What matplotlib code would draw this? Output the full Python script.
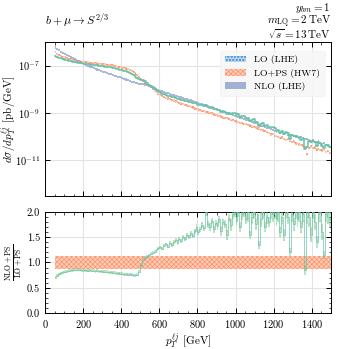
import numpy as np
import matplotlib
matplotlib.use("Agg")
import matplotlib.pyplot as plt
from matplotlib.patches import Patch
from matplotlib.ticker import MultipleLocator

plt.rcParams['font.family'] = ['cmr10', 'DejaVu Serif']
plt.rcParams['mathtext.fontset'] = 'cm'
plt.rcParams['axes.unicode_minus'] = False
plt.rcParams['axes.formatter.use_mathtext'] = True
plt.rcParams['hatch.linewidth'] = 0.45

# ---------------- data ----------------
bin_width = 10
bin_start = 50
n_bins = 145

# log10 of dsigma/dpT [pb/GeV], LO+PS (HW7)
lo_ps_log = [
    -6.44, -6.50, -6.55, -6.59, -6.63, -6.66, -6.69, -6.72, -6.74, -6.76,
    -6.78, -6.80, -6.81, -6.83, -6.84, -6.85, -6.86, -6.87, -6.88, -6.89,
    -6.90, -6.91, -6.92, -6.93, -6.94, -6.95, -6.96, -6.97, -6.98, -6.99,
    -7.00, -7.02, -7.03, -7.05, -7.07, -7.09, -7.11, -7.13, -7.16, -7.19,
    -7.23, -7.28, -7.34, -7.41, -7.49, -7.57, -7.64, -7.71, -7.79, -7.86,
    -7.92, -7.99, -8.06, -8.13, -8.19, -8.25, -8.29, -8.33, -8.36, -8.40,
    -8.42, -8.46, -8.48, -8.52, -8.54, -8.58, -8.61, -8.63, -8.67, -8.69,
    -8.72, -8.75, -8.77, -8.81, -8.83, -8.86, -8.88, -8.91, -8.93, -8.96,
    -8.98, -9.01, -9.03, -9.07, -9.08, -9.12, -9.14, -9.16, -9.19, -9.22,
    -9.23, -9.27, -9.29, -9.31, -9.34, -9.37, -9.38, -9.42, -9.43, -9.46,
    -9.48, -9.52, -9.53, -9.58, -9.59, -9.62, -9.66, -9.67, -9.72, -9.74,
    -9.77, -9.81, -9.84, -9.92, -9.90, -9.97, -9.99, -10.03, -10.06, -10.04,
    -10.10, -10.14, -10.12, -10.20, -10.24, -10.22, -10.30, -10.27, -10.34, -10.36,
    -10.38, -10.45, -10.75, -10.48, -10.42, -10.50, -10.47, -10.55, -10.52, -10.58,
    -10.60, -10.56, -10.65, -10.62, -10.70,
]

# log10 of dsigma/dpT [pb/GeV], NLO (LHE)
nlo_lhe_log = [
    -6.24, -6.30, -6.36, -6.42, -6.47, -6.52, -6.57, -6.61, -6.66, -6.70,
    -6.74, -6.78, -6.82, -6.86, -6.90, -6.94, -6.97, -7.01, -7.04, -7.08,
    -7.11, -7.14, -7.17, -7.20, -7.23, -7.26, -7.29, -7.32, -7.35, -7.37,
    -7.40, -7.43, -7.45, -7.48, -7.50, -7.53, -7.56, -7.59, -7.62, -7.65,
    -7.68, -7.71, -7.73, -7.75, -7.77, -7.78, -7.79, -7.80, -7.82, -7.85,
    -7.89, -7.93, -7.97, -8.01, -8.05, -8.08, -8.10, -8.13, -8.15, -8.18,
    -8.20, -8.23, -8.25, -8.28, -8.30, -8.33, -8.35, -8.38, -8.40, -8.43,
    -8.45, -8.48, -8.50, -8.53, -8.56, -8.58, -8.61, -8.64, -8.66, -8.69,
    -8.72, -8.74, -8.78, -8.80, -8.83, -8.86, -8.89, -8.91, -8.95, -8.97,
    -9.00, -9.03, -9.06, -9.09, -9.13, -9.15, -9.18, -9.21, -9.23, -9.27,
    -9.29, -9.32, -9.35, -9.38, -9.41, -9.44, -9.47, -9.50, -9.54, -9.56,
    -9.60, -9.63, -9.66, -9.70, -9.73, -9.76, -9.80, -9.78, -9.84, -9.82,
    -9.88, -9.86, -9.92, -9.95, -9.93, -9.97, -10.02, -9.99, -10.05, -10.03,
    -10.08, -10.12, -10.10, -10.16, -10.19, -10.15, -10.22, -10.25, -10.21, -10.28,
    -10.32, -10.27, -10.36, -10.40, -10.45,
]

# ratio NLO+PS / LO+PS
ratio = [
    0.70, 0.74, 0.77, 0.79, 0.81, 0.82, 0.83, 0.84, 0.85, 0.85,
    0.86, 0.86, 0.86, 0.86, 0.85, 0.85, 0.85, 0.84, 0.85, 0.84,
    0.84, 0.83, 0.84, 0.83, 0.83, 0.82, 0.82, 0.82, 0.81, 0.81,
    0.80, 0.80, 0.79, 0.79, 0.78, 0.78, 0.77, 0.77, 0.76, 0.77,
    0.76, 0.75, 0.75, 0.76, 0.82, 0.95, 1.05, 1.09, 1.11, 1.14,
    1.17, 1.19, 1.21, 1.24, 1.28, 1.30, 1.27, 1.33, 1.36, 1.31,
    1.38, 1.34, 1.40, 1.45, 1.38, 1.47, 1.42, 1.50, 1.46, 1.55,
    1.50, 1.58, 1.52, 1.62, 1.70, 1.60, 1.66, 1.74, 1.68, 2.00,
    1.75, 1.70, 1.82, 1.66, 1.78, 1.72, 1.85, 1.62, 1.80, 1.76,
    1.55, 1.88, 1.74, 1.95, 2.05, 1.82, 2.10, 1.70, 1.95, 2.05,
    1.85, 2.00, 1.55, 1.90, 2.10, 1.75, 1.95, 1.35, 1.85, 2.05,
    1.70, 1.90, 1.80, 2.05, 1.95, 2.10, 1.85, 2.00, 1.60, 1.90,
    1.55, 2.05, 1.90, 1.20, 1.95, 1.75, 2.10, 1.85, 2.00, 1.70,
    1.95, 0.85, 2.05, 1.90, 1.55, 2.10, 1.80, 1.40, 1.95, 2.05,
    1.60, 1.15, 2.00, 1.90, 1.85,
]

ratio_err = [
    0.03, 0.03, 0.03, 0.03, 0.03, 0.03, 0.03, 0.03, 0.03, 0.03,
    0.03, 0.03, 0.03, 0.03, 0.03, 0.03, 0.03, 0.03, 0.03, 0.03,
    0.03, 0.03, 0.03, 0.03, 0.03, 0.03, 0.03, 0.03, 0.03, 0.03,
    0.03, 0.03, 0.03, 0.03, 0.03, 0.03, 0.03, 0.03, 0.03, 0.03,
    0.03, 0.03, 0.03, 0.03, 0.03, 0.04, 0.03, 0.03, 0.03, 0.03,
    0.03, 0.03, 0.03, 0.03, 0.03, 0.03, 0.03, 0.03, 0.03, 0.03,
    0.04, 0.04, 0.04, 0.04, 0.04, 0.04, 0.04, 0.04, 0.04, 0.04,
    0.04, 0.05, 0.04, 0.05, 0.05, 0.05, 0.05, 0.06, 0.05, 0.08,
    0.06, 0.08, 0.06, 0.07, 0.06, 0.08, 0.07, 0.10, 0.06, 0.08,
    0.10, 0.08, 0.12, 0.10, 0.15, 0.08, 0.20, 0.10, 0.12, 0.15,
    0.10, 0.20, 0.08, 0.15, 0.25, 0.10, 0.12, 0.08, 0.15, 0.20,
    0.10, 0.15, 0.10, 0.20, 0.15, 0.25, 0.12, 0.20, 0.10, 0.15,
    0.12, 0.20, 0.15, 0.08, 0.15, 0.12, 0.25, 0.15, 0.20, 0.12,
    0.15, 0.10, 0.30, 0.20, 0.15, 0.25, 0.15, 0.12, 0.20, 0.25,
    0.15, 0.08, 0.20, 0.15, 0.15,
]

lo_ps_band = [0.88, 1.12]   # LO+PS scale band in ratio

# ---------------- colours ----------------
c_green = '#66c2a5'
c_orange = '#fc8d62'
c_blue = '#8da0cb'
c_lime = '#a6d854'
c_lo = '#5b9bd5'

edges = bin_start + bin_width * np.arange(n_bins + 1)
lo_ps = 10.0 ** np.array(lo_ps_log)
nlo_lhe = 10.0 ** np.array(nlo_lhe_log)
r = np.array(ratio)
rerr = np.array(ratio_err)
nlo_ps = lo_ps * r


def ext(a):
    return np.append(a, a[-1])


fig = plt.figure(figsize=(3.49, 3.49), dpi=100)
ax1 = fig.add_axes([0.129, 0.438, 0.819, 0.442])
ax2 = fig.add_axes([0.129, 0.103, 0.819, 0.290])

# main panel
ax1.fill_between(edges, ext(nlo_lhe) * 10 ** -0.045, ext(nlo_lhe) * 10 ** 0.045,
                 step='post', facecolor=c_blue, alpha=0.75, lw=0, zorder=3)
ax1.fill_between(edges, ext(lo_ps) * 10 ** -0.05, ext(lo_ps) * 10 ** 0.05,
                 step='post', facecolor='#fdcdb8', edgecolor=c_orange,
                 hatch='xxxxxxx', lw=0, zorder=2)
ax1.fill_between(edges, ext(nlo_ps) * 10 ** -0.03, ext(nlo_ps) * 10 ** 0.03,
                 step='post', facecolor=c_green, alpha=0.4, lw=0, zorder=4)
ax1.step(edges, ext(nlo_ps), where='post', color=c_green, lw=1.1, zorder=5)

ax1.set_yscale('log')
ax1.set_ylim(3e-13, 1e-6)
ax1.set_xlim(0, 1500)
ax1.set_yticks([1e-11, 1e-9, 1e-7])
ax1.yaxis.set_minor_locator(matplotlib.ticker.NullLocator())
ax1.xaxis.set_major_locator(MultipleLocator(200))
ax1.xaxis.set_minor_locator(MultipleLocator(50))
ax1.tick_params(labelbottom=False)
ax1.set_ylabel(r'$d\sigma/dp_T^{\ell j}$ [pb/GeV]', fontsize=8)
ax1.yaxis.set_label_coords(-0.093, 0.5)

handles = [
    Patch(facecolor='#b9d6f0', edgecolor=c_lo, hatch='ooooo', lw=0, label='LO (LHE)'),
    Patch(facecolor='#fdcdb8', edgecolor=c_orange, hatch='xxxxxxx', lw=0, label='LO+PS (HW7)'),
    Patch(facecolor=c_blue, alpha=0.8, lw=0, label='NLO (LHE)'),
]
leg = ax1.legend(handles=handles, loc='upper right', fontsize=7, frameon=True,
                 facecolor='#f7f7f7', edgecolor='#f0f0f0', framealpha=0.9,
                 borderpad=0.5, handlelength=2.2, labelspacing=0.45,
                 bbox_to_anchor=(0.995, 0.975))
leg.get_frame().set_linewidth(0.5)
leg.set_zorder(10)

# ratio panel
ax2.fill_between([edges[0], edges[-1]], lo_ps_band[0], lo_ps_band[1],
                 facecolor='#fdcdb8', edgecolor=c_orange, hatch='xxxxxxx', lw=0, zorder=2)
ax2.fill_between(edges, ext(r - rerr), ext(r + rerr), step='post',
                 facecolor=c_green, alpha=0.45, lw=0, zorder=3)
ax2.fill_between(edges, ext(r - rerr), ext(r + rerr), step='post',
                 facecolor='none', edgecolor=c_lime, hatch='////', lw=0, zorder=4)
ax2.step(edges, ext(r), where='post', color=c_green, lw=0.6, alpha=0.8, zorder=3)
ax2.set_xlim(0, 1500)
ax2.set_ylim(0, 2.0)
ax2.yaxis.set_major_locator(MultipleLocator(0.5))
ax2.yaxis.set_minor_locator(MultipleLocator(0.1))
ax2.xaxis.set_major_locator(MultipleLocator(200))
ax2.xaxis.set_minor_locator(MultipleLocator(50))
ax2.yaxis.set_major_formatter(matplotlib.ticker.FormatStrFormatter('%.1f'))
ax2.set_xlabel(r'$p_T^{\ell j}$ [GeV]', fontsize=8, labelpad=1)
ax2.set_ylabel(r'$\frac{\mathrm{NLO+PS}}{\mathrm{LO+PS}}$', fontsize=8)
ax2.yaxis.set_label_coords(-0.075, 0.5)

for ax in (ax1, ax2):
    ax.grid(True, which='major', color='#e3e3e3', lw=0.8, zorder=0)
    ax.set_axisbelow(True)
    ax.tick_params(which='both', direction='in', top=True, right=True, labelsize=7.5)
    ax.tick_params(which='major', length=3.5, width=0.7)
    ax.tick_params(which='minor', length=1.8, width=0.5)
    for s in ax.spines.values():
        s.set_linewidth(0.7)

fig.text(0.129, 0.940, r'$b+\mu\rightarrow S^{2/3}$', fontsize=8.5, ha='left', va='center')
fig.text(0.948, 0.997,
         '$y_{bm}=1$\n$m_{\\mathrm{LQ}}=2\\,\\mathrm{TeV}$\n$\\sqrt{s}=13\\,\\mathrm{TeV}$',
         fontsize=8, ha='right', va='top', multialignment='right', linespacing=0.82)

fig.savefig('out.png', dpi=100)
